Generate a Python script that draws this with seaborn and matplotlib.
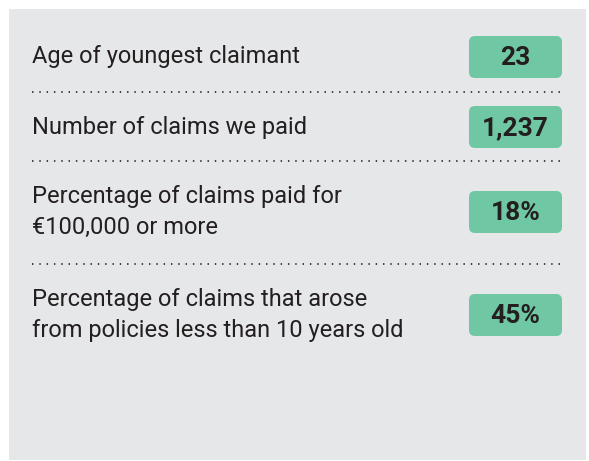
"""
Claims key facts panel.
"""

import matplotlib
matplotlib.use('Agg')
import matplotlib.pyplot as plt
from matplotlib.patches import FancyBboxPatch, Rectangle
import seaborn as sns

# Data
labels = [
    'Age of youngest claimant',
    'Number of claims we paid',
    'Percentage of claims paid for\n€100,000 or more',
    'Percentage of claims that arose\nfrom policies less than 10 years old',
]
values = ['23', '1,237', '18%', '45%']

PANEL = '#E6E7E9'
BADGE = '#70C7A3'
INK = '#231F20'

sns.set_theme(style='white')
plt.rcParams['font.family'] = ['Roboto', 'DejaVu Sans']

fig = plt.figure(figsize=(5.89, 4.61), dpi=100)
ax = fig.add_axes([0, 0, 1, 1])
ax.set_xlim(0, 589)
ax.set_ylim(461, 0)
ax.axis('off')

# grey panel
ax.add_patch(Rectangle((9, 9), 577, 451, facecolor=PANEL, edgecolor='none'))

# row layout (pixel space)
centers = [57, 127, 212, 315]
separators = [92, 161, 264]

for label, value, cy in zip(labels, values, centers):
    ax.text(32, cy, label, ha='left', va='center', fontsize=17,
            color=INK, linespacing=1.4)
    ax.add_patch(FancyBboxPatch((469 + 4, cy - 21 + 4), 93 - 8, 42 - 8,
                                boxstyle='round,pad=4,rounding_size=6',
                                facecolor=BADGE, edgecolor='none'))
    ax.text(515.5, cy + 1, value, ha='center', va='center', fontsize=19,
            fontweight='bold', color=INK)

ax.hlines(separators, 32, 563, colors='#333333', linewidth=1.3,
          linestyles=(0, (0.8, 3.25)))

plt.savefig('out.png', dpi=100)
